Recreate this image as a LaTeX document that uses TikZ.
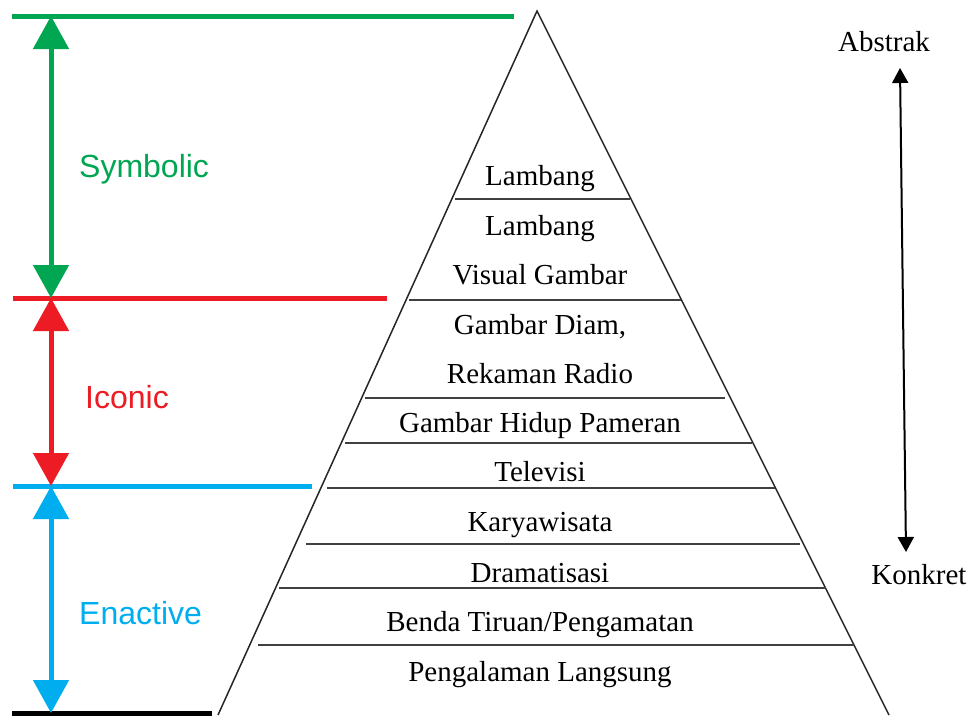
\documentclass[tikz,border=0pt]{standalone}
\usepackage{fontspec}
\setmainfont{Liberation Serif}
\newfontfamily\labelfont{Liberation Sans}
\usetikzlibrary{arrows.meta}
\definecolor{symgreen}{RGB}{0,166,81}
\definecolor{icored}{RGB}{237,28,36}
\definecolor{enablue}{RGB}{0,174,239}
\begin{document}
\begin{tikzpicture}[x=1pt,y=-1pt,
  lvl/.style={font=\fontsize{29}{29}\selectfont, text height=19pt, text depth=0pt, inner sep=0pt},
  mode/.style={font=\labelfont\fontsize{32}{32}\selectfont, text height=23pt, text depth=0pt, inner sep=0pt, anchor=west},
  sepline/.style={line width=1.7pt, draw=black!75},
  sideline/.style={line width=1.5pt, draw=black!85},
  bound/.style={line width=5pt},
  spanarrow/.style={line width=5pt, {Triangle[length=33pt,width=35pt]}-{Triangle[length=33pt,width=35pt]}},
  axisarrow/.style={line width=2pt, {Triangle[length=15pt,width=16pt]}-{Triangle[length=15pt,width=16pt]}},
]
\useasboundingbox (0,0) rectangle (974,715);

% pyramid
\coordinate (apex) at (537,11);
\coordinate (bl) at (218,715);
\coordinate (br) at (889,715);
\draw[sideline] (bl) -- (apex) -- (br);

% separators
\foreach \y/\xa/\xb [count=\i] in {199/455/630, 300/409/681, 398/365/725, 443/345/752, 488/327/775, 544/306/800, 588/279/826, 645/258/854}{
  \coordinate (s\i a) at (\xa,\y);
  \coordinate (s\i b) at (\xb,\y);
  \draw[sepline] (s\i a) -- (s\i b);
}

% level texts
\node[lvl] (t1) at (540,176) {Lambang};
\node[lvl] (t2) at (540,226) {Lambang};
\node[lvl] (t3) at (540,275) {Visual Gambar};
\node[lvl] (t4) at (540,325) {Gambar Diam,};
\node[lvl] (t5) at (540,374) {Rekaman Radio};
\node[lvl] (t6) at (540,423) {Gambar Hidup Pameran};
\node[lvl] (t7) at (540,472) {Televisi};
\node[lvl] (t8) at (540,522) {Karyawisata};
\node[lvl] (t9) at (540,573) {Dramatisasi};
\node[lvl] (t10) at (540,622) {Benda Tiruan/Pengamatan};
\node[lvl] (t11) at (540,672) {Pengalaman Langsung};

% boundaries
\coordinate (g0) at (12,16);  \coordinate (g1) at (514,16);
\coordinate (r0) at (13,298); \coordinate (r1) at (387,298);
\coordinate (b0) at (13,486); \coordinate (b1) at (312,486);
\coordinate (k0) at (12,713); \coordinate (k1) at (212,713);
\draw[bound, symgreen] (g0) -- (g1);
\draw[bound, icored] (r0) -- (r1);
\draw[bound, enablue] (b0) -- (b1);
\draw[bound, black] (k0) -- (k1);

% span arrows
\coordinate (ag) at (51,16);
\coordinate (ar) at (51,298);
\coordinate (ab) at (51,486);
\coordinate (ak) at (51,713);
\draw[spanarrow, symgreen] (ag) -- (ar);
\draw[spanarrow, icored] (ar) -- (ab);
\draw[spanarrow, enablue] (ab) -- (ak);

% mode labels
\node[mode, text=symgreen] (sym) at (79,166) {Symbolic};
\node[mode, text=icored] (ico) at (85,397) {Iconic};
\node[mode, text=enablue] (ena) at (79,613) {Enactive};

% abstract-concrete axis
\node[lvl] (abs) at (884,42) {Abstrak};
\node[lvl] (kon) at (919,575) {Konkret};
\coordinate (ax0) at (900,68);
\coordinate (ax1) at (906,552);
\draw[axisarrow] (ax0) -- (ax1);
\end{tikzpicture}
\end{document}
